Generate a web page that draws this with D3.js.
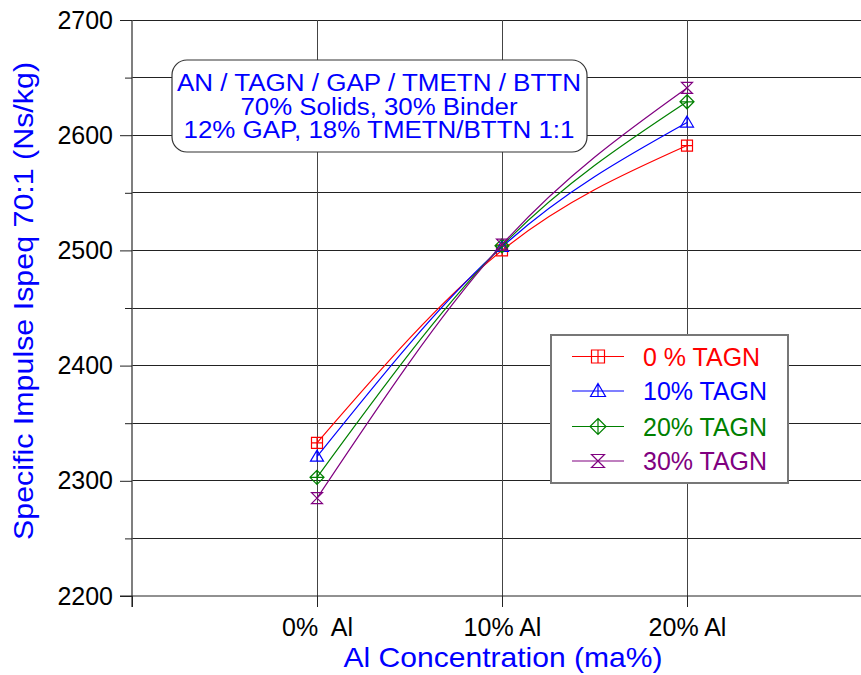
<!DOCTYPE html>
<html>
<head>
<meta charset="utf-8">
<script src="https://cdn.jsdelivr.net/npm/d3@7/dist/d3.min.js"></script>
<style>
  html, body { margin: 0; padding: 0; background: #fff; }
  svg { display: block; }
  text { font-family: "Liberation Sans", Arial, sans-serif; }
</style>
</head>
<body>
<svg id="chart" width="861" height="675"></svg>
<script>
// ---- data ----
const categories = ["0%  Al", "10% Al", "20% Al"];
const categoryIndex = [0, 1, 2];
const seriesNames = ["0 % TAGN", "10% TAGN", "20% TAGN", "30% TAGN"];
const seriesColors = ["#ff0000", "#0000ff", "#008000", "#800080"];
const seriesMarkers = ["squareCross", "triangle", "diamond", "hourglass"];
const tagn0 = [2333, 2500, 2591];
const tagn10 = [2321, 2503, 2611];
const tagn20 = [2303, 2504, 2629];
const tagn30 = [2285, 2505, 2641];
const seriesValues = [tagn0, tagn10, tagn20, tagn30];
const yMajorTicks = [2200, 2300, 2400, 2500, 2600, 2700];
const yMinorTicks = [2250, 2350, 2450, 2550, 2650];
const annotationLines = ["AN / TAGN / GAP / TMETN / BTTN", "70% Solids, 30% Binder", "12% GAP, 18% TMETN/BTTN 1:1"];
const xTitle = "Al Concentration (ma%)";
const yTitle = "Specific Impulse Ispeq 70:1 (Ns/kg)";

// ---- layout ----
const svg = d3.select("#chart");
const pLeft = 132, pRight = 872, pTop = 20, pBottom = 596;
const x = d3.scaleLinear().domain([-1, 3]).range([pLeft, pRight]);
const y = d3.scaleLinear().domain([2200, 2700]).range([pBottom, pTop]);
const W = 861;

const grid = svg.append("g");
const allY = d3.range(2250, 2701, 50);
grid.selectAll("line.h").data(allY).join("line")
  .attr("x1", pLeft).attr("x2", W)
  .attr("y1", d => y(d)).attr("y2", d => y(d))
  .attr("stroke", "#222").attr("stroke-width", 1).attr("shape-rendering", "crispEdges");
grid.selectAll("line.v").data(categoryIndex).join("line")
  .attr("x1", d => x(d)).attr("x2", d => x(d))
  .attr("y1", pTop).attr("y2", pBottom)
  .attr("stroke", "#444").attr("stroke-width", 1).attr("shape-rendering", "crispEdges");

// y axis
const yAxis = svg.append("g").attr("transform", `translate(${pLeft},0)`)
  .call(d3.axisLeft(y).tickValues(yMajorTicks).tickSize(12).tickPadding(6).tickFormat(d3.format("d")));
yAxis.select(".domain").attr("stroke", "#555").attr("stroke-width", 1.5).attr("d", `M0,${pTop}V${pBottom + 11}`);
yAxis.selectAll(".tick line").attr("stroke", "#222");
yAxis.selectAll(".tick text").attr("font-size", 25).attr("fill", "#000")
  .attr("font-family", "'Liberation Sans', Arial, sans-serif").attr("x", -19);
const yMinor = svg.append("g").attr("transform", `translate(${pLeft},0)`)
  .call(d3.axisLeft(y).tickValues(yMinorTicks).tickSize(7).tickFormat(""));
yMinor.select(".domain").remove();
yMinor.selectAll(".tick line").attr("stroke", "#222");

// x axis
const xAxis = svg.append("g").attr("transform", `translate(0,${pBottom})`)
  .call(d3.axisBottom(x).tickValues([-1, 0, 1, 2]).tickSize(11).tickPadding(11)
    .tickFormat(d => d < 0 ? "" : categories[d]));
xAxis.select(".domain").attr("stroke", "#222").attr("d", `M${pLeft - 12},0H${W}`);
xAxis.selectAll(".tick line").attr("stroke", "#222");
xAxis.selectAll(".tick text").attr("font-size", 25).attr("fill", "#000")
  .attr("font-family", "'Liberation Sans', Arial, sans-serif")
  .style("white-space", "pre");

// titles
svg.append("text").attr("x", 503).attr("y", 667).attr("text-anchor", "middle")
  .attr("font-size", 28).attr("fill", "#0000ff")
  .attr("textLength", 319).attr("lengthAdjust", "spacingAndGlyphs").text(xTitle);
svg.append("text").attr("transform", "translate(33,301) rotate(-90)").attr("text-anchor", "middle")
  .attr("font-size", 28).attr("fill", "#0000ff")
  .attr("textLength", 478).attr("lengthAdjust", "spacingAndGlyphs").text(yTitle);

// annotation box
svg.append("rect").attr("x", 172).attr("y", 60).attr("width", 415).attr("height", 92)
  .attr("rx", 15).attr("ry", 15).attr("fill", "#fff").attr("stroke", "#333").attr("stroke-width", 1.2);
const annWidths = [404, 277, 391];
svg.append("g").selectAll("text").data(annotationLines).join("text")
  .attr("x", 379).attr("y", (d, i) => 91 + i * 23.5).attr("text-anchor", "middle")
  .attr("font-size", 23.5).attr("fill", "#0000ff")
  .attr("textLength", (d, i) => annWidths[i]).attr("lengthAdjust", "spacingAndGlyphs")
  .text(d => d);

// markers
function markerPath(type, s) {
  const p = d3.path();
  const h = s / 2;
  if (type === "squareCross") {
    p.rect(-h, -h, s, s); p.moveTo(-h, 0); p.lineTo(h, 0); p.moveTo(0, -h); p.lineTo(0, h);
  } else if (type === "triangle") {
    p.moveTo(0, -h - 1); p.lineTo(h + 1, h - 1); p.lineTo(-h - 1, h - 1); p.closePath();
    p.moveTo(0, -h - 1); p.lineTo(0, h - 1);
  } else if (type === "diamond") {
    const d = h + 1.5;
    p.moveTo(0, -d); p.lineTo(d, 0); p.lineTo(0, d); p.lineTo(-d, 0); p.closePath();
    p.moveTo(-d, 0); p.lineTo(d, 0); p.moveTo(0, -d); p.lineTo(0, d);
  } else if (type === "hourglass") {
    p.moveTo(-h, -h); p.lineTo(h, -h); p.lineTo(-h, h); p.lineTo(h, h); p.closePath();
  }
  return p.toString();
}

// series
const line = d3.line().x((d, i) => x(categoryIndex[i])).y(d => y(d)).curve(d3.curveNatural);
const series = svg.append("g");
seriesValues.forEach((vals, si) => {
  const g = series.append("g");
  g.append("path").attr("d", line(vals)).attr("fill", "none")
    .attr("stroke", seriesColors[si]).attr("stroke-width", 1.2);
  g.selectAll("path.m").data(vals).join("path").attr("class", "m")
    .attr("transform", (d, i) => `translate(${x(categoryIndex[i])},${y(d)})`)
    .attr("d", markerPath(seriesMarkers[si], 11)).attr("fill", "none")
    .attr("stroke", seriesColors[si]).attr("stroke-width", 1.2);
});

// legend
const lg = svg.append("g");
lg.append("rect").attr("x", 551).attr("y", 335).attr("width", 237).attr("height", 148)
  .attr("fill", "#fff").attr("stroke", "#777").attr("stroke-width", 2);
const rowY = [356.5, 391, 426.5, 461];
seriesNames.forEach((name, si) => {
  const ry = rowY[si];
  lg.append("line").attr("x1", 572).attr("x2", 624).attr("y1", ry).attr("y2", ry)
    .attr("stroke", seriesColors[si]).attr("stroke-width", 1.2);
  lg.append("path").attr("transform", `translate(598,${ry})`)
    .attr("d", markerPath(seriesMarkers[si], 13)).attr("fill", "none")
    .attr("stroke", seriesColors[si]).attr("stroke-width", 1.2);
  lg.append("text").attr("x", 643).attr("y", ry + 9).attr("font-size", 25)
    .attr("fill", seriesColors[si]).text(name);
});
</script>
</body>
</html>
